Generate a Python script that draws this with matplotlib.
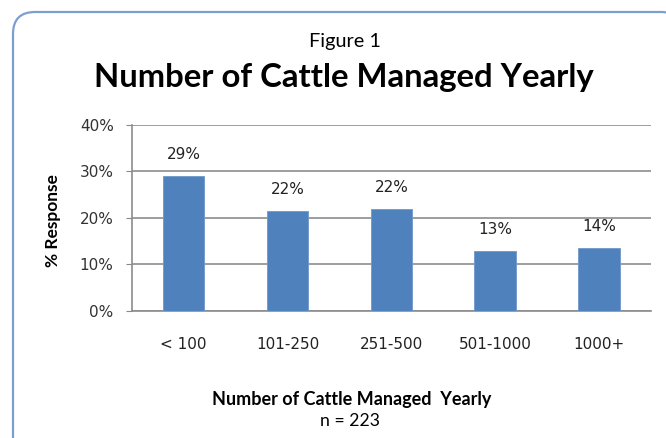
import matplotlib
matplotlib.use("Agg")
import matplotlib.pyplot as plt
from matplotlib.patches import FancyBboxPatch

categories = ["< 100", "101-250", "251-500", "501-1000", "1000+"]
values = [29.0, 21.4, 22.0, 12.9, 13.6]
labels = ["29%", "22%", "22%", "13%", "14%"]
yticks = [0, 10, 20, 30, 40]
ytick_labels = ["0%", "10%", "20%", "30%", "40%"]

W, H = 666, 438
fig = plt.figure(figsize=(W / 100, H / 100), dpi=100)

# background frame axes (pixel coordinates)
bg = fig.add_axes([0, 0, 1, 1])
bg.set_xlim(0, W)
bg.set_ylim(H, 0)
bg.axis("off")
frame = FancyBboxPatch((13, 12), 670, 450, boxstyle="round,pad=0,rounding_size=22",
                       facecolor="white", edgecolor="#7b9fd2", linewidth=1.6)
bg.add_patch(frame)

ax = fig.add_axes([131.7 / W, 1 - 310.7 / H, (651 - 131.7) / W, (310.7 - 125) / H])
ax.set_facecolor("none")
x = range(len(categories))
ax.bar(x, values, width=0.40, color="#4f81bd", edgecolor="#6f99cc", linewidth=0.6, zorder=3)
for xi, v, lab in zip(x, values, labels):
    ax.text(xi, v + 3.0, lab, ha="center", va="bottom", fontsize=11,
            family="DejaVu Sans", color="#222222")

ax.set_xlim(-0.5, 4.5)
ax.set_ylim(0, 40)
ax.set_yticks(yticks)
ax.set_yticklabels(ytick_labels, fontsize=11, family="DejaVu Sans", color="#333333")
ax.set_xticks(list(x))
ax.set_xticklabels(categories, fontsize=11, family="DejaVu Sans", color="#222222")
ax.tick_params(axis="x", length=0, pad=19)
ax.tick_params(axis="y", length=4, color="#888888", pad=9)
ax.grid(axis="y", color="#8c8c8c", linewidth=1.2, zorder=0)
for s in ["top", "right"]:
    ax.spines[s].set_visible(False)
ax.spines["left"].set_color("#8c8c8c")
ax.spines["bottom"].set_color("#8c8c8c")
ax.spines["left"].set_linewidth(1.2)
ax.spines["bottom"].set_linewidth(1.2)

fig.text(53 / W, 1 - 221 / H, "% Response", rotation=90, ha="center", va="center",
         fontsize=12.5, fontweight="bold", family="Lato")
fig.text(345 / W, 1 - 42 / H, "Figure 1", ha="center", va="center", fontsize=14.3, family="Lato")
fig.text(344 / W, 1 - 78 / H, "Number of Cattle Managed Yearly", ha="center", va="center",
         fontsize=23.7, fontweight="bold", family="Lato")
fig.text(352 / W, 1 - 400 / H, "Number of Cattle Managed  Yearly", ha="center", va="center",
         fontsize=13, fontweight="bold", family="Lato")
fig.text(350 / W, 1 - 421 / H, "n = 223", ha="center", va="center", fontsize=12.7, family="Lato")

fig.savefig("out.png", dpi=100)
